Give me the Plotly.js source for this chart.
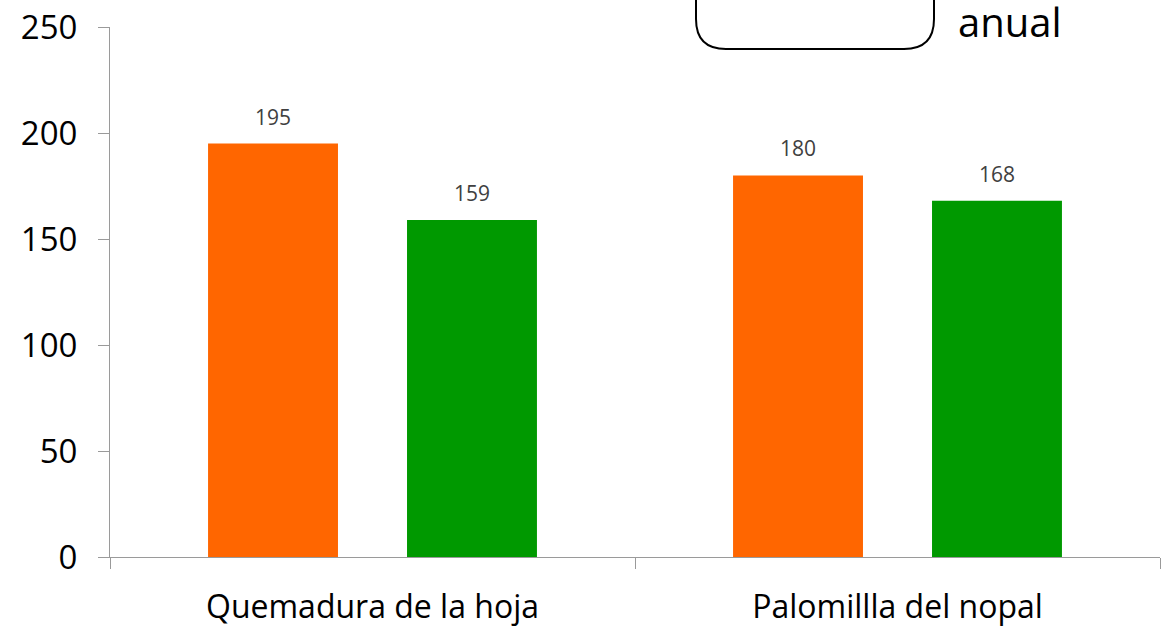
<!DOCTYPE html>
<html>
<head>
<meta charset="utf-8">
<script src="https://cdn.plot.ly/plotly-3.0.1.min.js"></script>
<style>html,body{margin:0;padding:0;background:#fff;}#chart{width:1166px;height:626px;}</style>
</head>
<body>
<div id="chart"></div>
<script>
const categories = ["Quemadura de la hoja", "Palomillla del nopal"];
const seriesA = [195, 180];
const seriesB = [159, 168];
const yTicks = [0, 50, 100, 150, 200, 250];
const legendText = "anual";

const W = 1166, H = 626;
const L = 110, R = 6, T = 27, B = 69;
const pw = W - L - R, ph = H - T - B;
const px = v => (v - L) / pw;
const py = v => (H - B - v) / ph;

function roundRect(x0, y0, x1, y1, r) {
  const rx = r / pw, ry = r / ph;
  const a = px(x0), b = px(x1), top = py(y0), bot = py(y1);
  return `M${a},${top} L${a},${bot + ry} Q${a},${bot} ${a + rx},${bot} L${b - rx},${bot} Q${b},${bot} ${b},${bot + ry} L${b},${top}`;
}

const traces = [
  {type: 'bar', x: categories, y: seriesA, marker: {color: '#FF6600'}, hoverinfo: 'none'},
  {type: 'bar', x: categories, y: seriesB, marker: {color: '#009900'}, hoverinfo: 'none'}
];

const annotations = [];
[seriesA, seriesB].forEach((s, i) => {
  s.forEach((v, j) => {
    annotations.push({
      x: categories[j], y: v, xref: 'x', yref: 'y', text: String(v), showarrow: false,
      xshift: i === 0 ? -99.5 : 99.5, yshift: 27, yanchor: 'middle',
      font: {family: 'Open Sans', size: 21, color: '#404040'}
    });
  });
});
annotations.push({
  xref: 'paper', yref: 'paper', x: px(956), y: py(21), xanchor: 'left', yanchor: 'middle',
  text: legendText, showarrow: false, font: {family: 'Open Sans', size: 40, color: '#000'}
});

const layout = {
  width: W, height: H,
  margin: {l: L, r: R, t: T, b: B, pad: 0},
  paper_bgcolor: '#fff', plot_bgcolor: '#fff',
  showlegend: false,
  barmode: 'group', bargap: 0.242, bargroupgap: 0.347,
  xaxis: {
    type: 'category', tickson: 'boundaries', ticks: 'outside', ticklen: 11, tickwidth: 1, tickcolor: '#9a9a9a',
    showline: true, linecolor: '#9a9a9a', linewidth: 1, showgrid: false, zeroline: false,
    tickfont: {family: 'Open Sans', size: 32, color: '#000'}, ticklabelstandoff: 22, fixedrange: true
  },
  yaxis: {
    range: [0, 250], tickvals: yTicks, ticktext: yTicks.map(String), ticks: 'outside', ticklen: 11, tickwidth: 1, tickcolor: '#9a9a9a',
    showline: true, linecolor: '#9a9a9a', linewidth: 1, showgrid: false, zeroline: false,
    tickfont: {family: 'Open Sans', size: 33, color: '#000'}, ticklabelstandoff: 14, fixedrange: true
  },
  shapes: [{
    type: 'path', xref: 'paper', yref: 'paper', path: roundRect(696, -20, 934, 49, 30),
    line: {color: '#000', width: 2}, fillcolor: 'rgba(0,0,0,0)'
  }],
  annotations: annotations
};

Plotly.newPlot('chart', traces, layout, {displayModeBar: false, staticPlot: true});
</script>
</body>
</html>
